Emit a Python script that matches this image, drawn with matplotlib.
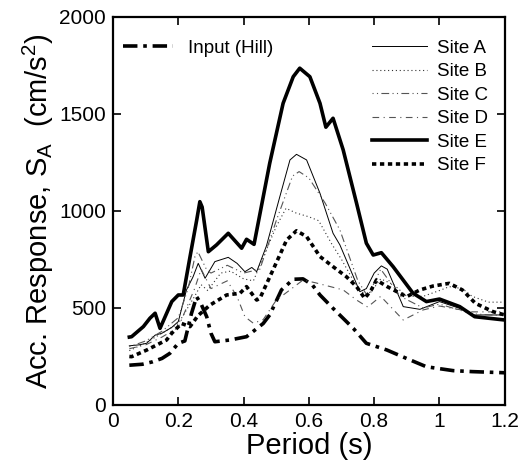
import matplotlib
matplotlib.use('Agg')
from matplotlib import pyplot as plt

plt.rcParams['font.family'] = ['Liberation Sans', 'DejaVu Sans']
plt.rcParams['mathtext.fontset'] = 'custom'
plt.rcParams['mathtext.rm'] = 'Liberation Sans'

# Input motion (Hill)
inp_t = [0.05, 0.09, 0.12, 0.15, 0.174, 0.2, 0.22, 0.24, 0.256, 0.27, 0.287, 0.3, 0.312, 0.358,
         0.409, 0.43, 0.46, 0.48, 0.516, 0.552, 0.582, 0.61, 0.634, 0.674, 0.736, 0.776, 0.838,
         0.899, 0.96, 1.042, 1.1, 1.185, 1.2]
inp_sa = [205, 210, 222, 240, 266, 318, 330, 470, 558, 520, 455, 370, 326, 335,
          352, 380, 420, 464, 593, 648, 650, 620, 567, 498, 395, 318, 284,
          240, 197, 177, 172, 167, 166]

site_a_t = [0.05, 0.08, 0.103, 0.129, 0.15, 0.18, 0.2, 0.225, 0.245, 0.261, 0.282, 0.312, 0.353,
            0.38, 0.404, 0.425, 0.44, 0.47, 0.511, 0.542, 0.562, 0.593, 0.634, 0.674, 0.695,
            0.756, 0.776, 0.8, 0.822, 0.84, 0.889, 0.94, 1.0, 1.062, 1.103, 1.2]
site_a_sa = [305, 310, 318, 360, 370, 400, 430, 593, 660, 730, 653, 739, 761,
             730, 687, 709, 687, 820, 1074, 1263, 1292, 1263, 1091, 885, 825,
             584, 600, 680, 717, 700, 507, 493, 533, 498, 464, 464]

site_b_t = [0.05, 0.1, 0.15, 0.2, 0.25, 0.27, 0.29, 0.33, 0.36, 0.4, 0.43, 0.47, 0.5, 0.53,
            0.56, 0.6, 0.63, 0.67, 0.7, 0.75, 0.78, 0.82, 0.86, 0.9, 0.95, 1.0, 1.03, 1.07,
            1.1, 1.15, 1.2]
site_b_sa = [280, 320, 370, 420, 560, 620, 590, 680, 690, 650, 640, 800, 920, 1014,
             990, 970, 950, 830, 750, 600, 560, 650, 620, 560, 560, 590, 610, 600,
             560, 530, 530]

site_c_t = [0.05, 0.1, 0.15, 0.2, 0.23, 0.251, 0.26, 0.287, 0.3, 0.35, 0.4, 0.45, 0.5, 0.55,
            0.57, 0.6, 0.65, 0.695, 0.75, 0.78, 0.82, 0.88, 0.95, 1.0, 1.1, 1.2]
site_c_sa = [300, 330, 380, 450, 600, 765, 790, 696, 680, 720, 680, 700, 950, 1180,
             1203, 1170, 1040, 902, 640, 560, 700, 560, 500, 520, 470, 460]

site_d_t = [0.05, 0.1, 0.15, 0.2, 0.25, 0.27, 0.3, 0.35, 0.38, 0.404, 0.43, 0.46, 0.5, 0.542,
            0.582, 0.62, 0.705, 0.746, 0.78, 0.82, 0.889, 0.95, 1.0, 1.1, 1.2]
site_d_sa = [290, 310, 350, 400, 600, 700, 600, 640, 558, 455, 421, 440, 540, 593,
             644, 630, 593, 541, 505, 560, 438, 490, 510, 480, 480]

site_e_t = [0.05, 0.057, 0.093, 0.113, 0.129, 0.144, 0.18, 0.2, 0.215, 0.236, 0.256, 0.266, 0.273,
            0.292, 0.317, 0.353, 0.394, 0.409, 0.432, 0.48, 0.521, 0.552, 0.572, 0.603, 0.634,
            0.652, 0.674, 0.705, 0.746, 0.776, 0.797, 0.822, 0.858, 0.919, 0.96, 1.0, 1.062,
            1.108, 1.2]
site_e_sa = [350, 352, 404, 447, 473, 395, 533, 567, 567, 765, 950, 1048, 1020,
             790, 825, 885, 808, 854, 828, 1246, 1555, 1692, 1736, 1692, 1555,
             1432, 1478, 1315, 1040, 834, 773, 785, 713, 576, 533, 546, 507,
             455, 438]

site_f_t = [0.05, 0.057, 0.103, 0.164, 0.18, 0.21, 0.236, 0.26, 0.297, 0.348, 0.389, 0.409, 0.44,
            0.45, 0.49, 0.532, 0.562, 0.593, 0.634, 0.674, 0.715, 0.746, 0.771, 0.79, 0.807,
            0.84, 0.899, 0.94, 0.98, 1.03, 1.07, 1.11, 1.164, 1.2]
site_f_sa = [250, 249, 283, 335, 370, 420, 404, 460, 515, 567, 576, 610, 541,
             550, 696, 851, 898, 868, 765, 713, 661, 610, 550, 590, 644,
             610, 558, 593, 613, 627, 593, 524, 481, 464]

fig = plt.figure(figsize=(5.22, 4.69), dpi=100)
ax = fig.add_axes([0.2165, 0.1365, 0.7505, 0.8273])

l_in, = ax.plot(inp_t, inp_sa, color='black', lw=2.6, dashes=(4, 1.6, 1, 1.6), label='Input (Hill)')
l_a, = ax.plot(site_a_t, site_a_sa, color='black', lw=0.7, label='Site A')
l_b, = ax.plot(site_b_t, site_b_sa, color='#333333', lw=0.8, dashes=(1, 2.5), label='Site B')
l_c, = ax.plot(site_c_t, site_c_sa, color='#555555', lw=0.8, dashes=(1, 3, 1, 3, 7, 3), label='Site C')
l_d, = ax.plot(site_d_t, site_d_sa, color='#555555', lw=0.8, dashes=(6, 4, 1, 4), label='Site D')
l_e, = ax.plot(site_e_t, site_e_sa, color='black', lw=2.6, label='Site E')
l_f, = ax.plot(site_f_t, site_f_sa, color='black', lw=2.6, dashes=(1.2, 1), label='Site F')

ax.set_xlim(0, 1.2)
ax.set_ylim(0, 2000)
ax.set_xticks([0, 0.2, 0.4, 0.6, 0.8, 1.0, 1.2])
ax.set_xticklabels(['0', '0.2', '0.4', '0.6', '0.8', '1', '1.2'])
ax.set_yticks([0, 500, 1000, 1500, 2000])
ax.tick_params(direction='in', length=6, width=1.2, labelsize=15, top=True, right=True, pad=5)
for s in ax.spines.values():
    s.set_linewidth(1.6)

ax.set_xlabel('Period (s)', fontsize=21, labelpad=1)
ax.set_ylabel(r'Acc. Response, S$_\mathregular{A}$  (cm/s$^\mathregular{2}$)', fontsize=21, labelpad=2)

leg1 = ax.legend(handles=[l_in], loc='upper left', bbox_to_anchor=(-0.023, 0.99), frameon=False,
                 fontsize=13.5, handlelength=2.7, handletextpad=0.8, borderaxespad=0.6)
ax.add_artist(leg1)
ax.legend(handles=[l_a, l_b, l_c, l_d, l_e, l_f], loc='upper right', bbox_to_anchor=(1.0, 0.985),
          frameon=False, fontsize=13.5, handlelength=2.9, handletextpad=0.55, labelspacing=0.34,
          borderaxespad=0.5)

fig.savefig('out.png', dpi=100)
